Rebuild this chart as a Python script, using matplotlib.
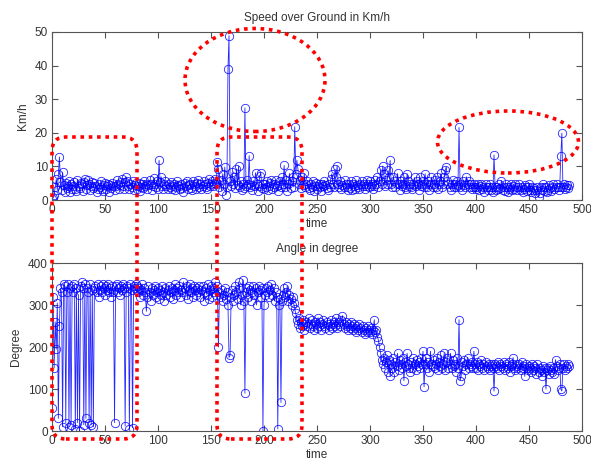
import numpy as np
import matplotlib.pyplot as plt
import matplotlib.patches as mpatches
from matplotlib.transforms import IdentityTransform

plt.rcParams['font.family'] = ['Liberation Sans', 'DejaVu Sans']

# speed over ground in km/h, one sample per time step (t = 0..488)
speed = [
    0.3, 0.6, 1.4, 3.8, 6.2, 2.9, 7.6, 12.8, 5.3, 3.1, 8.2, 4.4, 2.3, 5.1, 3.6, 4.2, 5.8, 2.4, 4.9, 3.3,
    4.1, 5.4, 3.2, 2.6, 6.1, 4.3, 3.5, 5.2, 4.7, 2.8, 5.5, 6.3, 3.4, 4.5, 5.9, 4.8, 3.1, 4.2, 5.3, 3.7,
    5.1, 4.3, 2.5, 3.4, 4.9, 3.8, 5.7, 3.2, 2.7, 4.4, 5.2, 3.3, 4.1, 4.8, 2.4, 4.5, 3.5, 5.1, 4.2, 3.1,
    4.3, 5.9, 4.7, 3.2, 4.4, 5.3, 6.2, 4.1, 3.4, 5.5, 6.8, 5.7, 4.2, 3.3, 4.9, 3.8, 5.6, 3.1, 4.4, 5.2,
    3.2, 4.3, 5.1, 2.6, 3.9, 4.8, 3.5, 5.8, 4.1, 4.9, 3.3, 4.4, 5.9, 4.7, 3.1, 4.2, 6.6, 4.8, 3.8, 5.7,
    3.4, 11.8, 5.3, 6.9, 4.2, 3.2, 4.8, 5.6, 4.1, 3.3, 4.7, 3.9, 5.5, 3.2, 4.3, 4.9, 3.1, 3.8, 5.7, 4.6,
    4.1, 3.2, 4.8, 3.7, 2.4, 5.1, 4.2, 5.8, 3.3, 4.4, 4.9, 3.6, 3.1, 5.7, 4.8, 4.2, 3.4, 5.1, 6.1, 3.9,
    4.7, 3.3, 4.1, 5.8, 4.9, 3.8, 3.2, 5.2, 6.2, 4.1, 4.8, 5.7, 4.3, 5.1, 6.3, 4.9, 11.2, 9.1, 3.8, 5.9,
    2.8, 7.8, 4.7, 9.8, 1.6, 3.9, 39.1, 48.9, 5.6, 4.1, 8.3, 4.8, 6.9, 3.7, 9.2, 4.6, 10.1, 3.9, 5.8, 2.9,
    4.8, 3.6, 27.4, 4.2, 5.9, 4.7, 13.2, 3.8, 4.6, 3.1, 5.8, 4.2, 8.1, 4.9, 2.8, 4.3, 7.2, 7.9, 3.7, 4.8,
    3.2, 4.9, 3.8, 5.7, 2.9, 4.1, 5.2, 6.1, 3.3, 3.9, 4.8, 5.9, 4.2, 2.7, 4.6, 5.8, 3.9, 6.8, 4.7, 10.3,
    3.8, 5.9, 2.8, 4.7, 7.9, 3.6, 5.8, 6.9, 3.9, 21.8, 7.8, 11.9, 9.2, 4.8, 6.1, 3.7, 6.8, 4.6, 7.9, 3.8,
    4.9, 5.8, 3.7, 2.9, 4.8, 3.9, 5.7, 2.6, 4.2, 5.1, 3.3, 4.1, 4.9, 3.8, 2.8, 4.7, 4.1, 5.8, 4.6, 3.7,
    3.1, 4.8, 3.9, 6.2, 7.8, 4.9, 3.8, 9.1, 6.7, 10.2, 4.8, 3.9, 5.8, 3.2, 4.6, 3.8, 5.9, 4.7, 3.9, 3.1,
    4.8, 3.7, 5.8, 3.1, 4.9, 4.2, 3.3, 5.9, 4.6, 3.8, 3.2, 4.8, 5.7, 4.1, 4.9, 3.3, 4.2, 6.1, 4.7, 3.8,
    5.8, 4.1, 4.9, 3.2, 4.2, 5.9, 4.8, 6.8, 3.9, 5.8, 8.9, 4.9, 10.1, 7.8, 4.2, 5.9, 4.8, 8.8, 6.9, 11.8,
    4.9, 3.8, 6.8, 5.7, 3.9, 4.8, 7.9, 4.7, 3.1, 5.8, 4.2, 4.9, 6.8, 3.8, 3.2, 7.8, 5.8, 4.1, 4.8, 3.9,
    3.2, 4.9, 6.7, 4.1, 5.8, 4.7, 3.1, 6.9, 4.2, 4.8, 5.7, 3.9, 7.8, 4.9, 3.8, 5.8, 3.1, 4.8, 6.8, 3.9,
    4.8, 5.9, 3.8, 6.7, 3.2, 4.9, 5.8, 7.9, 3.9, 4.8, 6.8, 8.9, 9.9, 5.8, 4.7, 3.9, 3.1, 4.8, 5.9, 3.8,
    4.7, 3.9, 5.8, 4.6, 21.6, 3.8, 4.8, 3.1, 5.7, 4.6, 3.8, 6.9, 4.7, 5.8, 3.9, 4.8, 3.2, 3.9, 4.7, 3.8,
    3.2, 3.9, 4.8, 3.1, 4.1, 4.7, 3.3, 3.8, 2.4, 4.7, 3.9, 3.1, 3.8, 4.8, 2.9, 3.9, 2.3, 13.4, 3.8, 3.1,
    3.9, 3.2, 4.8, 3.7, 5.8, 3.1, 3.9, 2.8, 4.7, 3.8, 2.4, 3.2, 3.9, 4.8, 2.9, 4.1, 3.2, 4.7, 3.8, 2.9,
    3.8, 4.7, 3.1, 3.9, 2.3, 3.2, 4.6, 3.8, 2.8, 3.9, 4.8, 3.1, 2.4, 3.8, 2.9, 3.7, 2.2, 3.1, 3.9, 0.9,
    2.1, 3.8, 2.9, 4.7, 3.8, 2.8, 3.9, 2.3, 3.1, 4.6, 3.7, 2.8, 3.9, 4.8, 3.2, 3.8, 4.7, 3.9, 3.1, 3.8,
    13.1, 19.9, 3.9, 4.7, 3.2, 3.8, 4.6, 3.7, 4.4,
]

# heading angle in degrees
angle = [
    55, 320, 150, 260, 195, 305, 30, 250, 340, 330, 10, 350, 345, 20, 330, 350, 10, 340, 15, 345,
    330, 350, 5, 340, 20, 325, 0, 345, 355, 340, 15, 350, 30, 340, 330, 20, 350, 15, 335, 10,
    340, 345, 330, 350, 320, 335, 345, 330, 350, 340, 325, 345, 335, 350, 330, 340, 320, 345, 330, 20,
    345, 350, 330, 340, 325, 345, 335, 350, 340, 12, 330, 345, 340, 5, 350, 335, 8, 345, 340, 350,
    345, 330, 340, 320, 335, 350, 325, 340, 330, 285, 320, 345, 330, 310, 340, 325, 335, 345, 320, 330,
    340, 315, 335, 325, 345, 330, 310, 340, 325, 335, 345, 320, 330, 340, 315, 335, 350, 325, 340, 330,
    345, 320, 335, 330, 355, 340, 325, 345, 315, 335, 350, 330, 340, 320, 345, 335, 325, 340, 330, 345,
    320, 335, 345, 310, 330, 340, 325, 350, 315, 335, 345, 320, 340, 330, 355, 325, 345, 200, 330, 320,
    335, 310, 325, 340, 315, 330, 300, 175, 180, 320, 335, 310, 325, 345, 330, 315, 355, 340, 300, 325,
    360, 310, 90, 330, 340, 320, 345, 335, 310, 330, 345, 325, 340, 300, 330, 345, 335, 320, 340, 0,
    300, 325, 340, 330, 345, 320, 335, 350, 325, 340, 310, 330, 320, 5, 300, 315, 68, 310, 325, 340,
    320, 330, 345, 310, 325, 315, 300, 320, 305, 290, 280, 265, 255, 270, 245, 260, 250, 265, 240, 255,
    260, 250, 270, 245, 255, 265, 250, 240, 260, 255, 245, 270, 250, 260, 240, 255, 265, 250, 245, 260,
    255, 240, 250, 265, 245, 255, 260, 250, 270, 245, 255, 260, 250, 265, 275, 255, 245, 260, 250, 240,
    255, 245, 260, 250, 240, 255, 245, 235, 250, 240, 255, 245, 235, 250, 240, 230, 245, 235, 250, 240,
    235, 245, 230, 240, 265, 235, 240, 225, 215, 200, 185, 170, 160, 175, 150, 165, 180, 140, 170, 130,
    160, 150, 175, 140, 165, 155, 185, 145, 170, 160, 150, 175, 120, 165, 155, 185, 160, 150, 140, 165,
    150, 175, 160, 145, 170, 155, 165, 150, 175, 160, 190, 105, 160, 175, 150, 165, 140, 190, 160, 155,
    170, 150, 160, 175, 145, 165, 155, 180, 150, 160, 185, 145, 165, 175, 150, 160, 185, 150, 170, 155,
    160, 140, 175, 150, 265, 120, 130, 165, 155, 170, 145, 160, 175, 150, 160, 155, 165, 150, 190, 160,
    150, 165, 145, 160, 155, 170, 150, 160, 145, 165, 155, 150, 160, 145, 155, 160, 150, 95, 160, 155,
    150, 165, 145, 160, 155, 150, 165, 145, 160, 155, 150, 165, 140, 155, 160, 175, 150, 145, 160, 155,
    150, 160, 145, 165, 150, 155, 130, 160, 150, 145, 155, 150, 140, 160, 145, 155, 150, 135, 160, 140,
    150, 145, 130, 155, 140, 150, 100, 145, 150, 135, 155, 145, 140, 150, 135, 170, 155, 145, 150, 160,
    100, 95, 150, 160, 145, 155, 150, 160, 155,
]

time = np.arange(len(speed))

W, H = 591, 465
fig = plt.figure(figsize=(W / 100, H / 100), dpi=100)
fig.patch.set_facecolor('white')

txt = '#333333'
blue = '#0000ff'


def panel(rect, y, title, ylabel, ymax, ystep):
    ax = fig.add_axes(rect)
    ax.plot(time, y, '-o', color=blue, lw=0.6, ms=6, mew=0.6, mfc='none', mec=blue, alpha=0.85)
    ax.set_xlim(0, 500)
    ax.set_ylim(0, ymax)
    ax.set_xticks(np.arange(0, 501, 50))
    ax.set_yticks(np.arange(0, ymax + 1, ystep))
    ax.tick_params(direction='in', top=True, right=True, length=4, width=0.8,
                   labelsize=8.5, colors='#555555', labelcolor=txt, pad=3)
    for s in ax.spines.values():
        s.set_color('#555555')
        s.set_linewidth(0.8)
    ax.set_title(title, fontsize=8.5, color=txt, pad=8)
    ax.set_xlabel('time', fontsize=8.5, color=txt, labelpad=1)
    ax.set_ylabel(ylabel, fontsize=8.5, color=txt, labelpad=4)
    return ax


panel([52 / W, 1 - 200 / H, 530 / W, 168 / H], speed, 'Speed over Ground in Km/h', 'Km/h', 50, 10)
panel([52 / W, 1 - 431 / H, 530 / W, 168 / H], angle, 'Angle in degree', 'Degree', 400, 100)

# red dotted highlight marks, in pixel coordinates (origin bottom-left)
red = '#ff0000'
dots = (0, (1, 1.3))
marks = [
    mpatches.Ellipse((255, H - 80), 140, 103),
    mpatches.Ellipse((508, H - 142), 141, 62),
    mpatches.FancyBboxPatch((52, H - 439), 85, 302, boxstyle='round,pad=0,rounding_size=14'),
    mpatches.FancyBboxPatch((217, H - 439), 85, 302, boxstyle='round,pad=0,rounding_size=14'),
]
for m in marks:
    m.set_transform(IdentityTransform())
    m.set_fill(False)
    m.set_edgecolor(red)
    m.set_linewidth(2.6)
    m.set_linestyle(dots)
    m.set_zorder(10)
    fig.add_artist(m)

fig.savefig('out.png', dpi=100)
